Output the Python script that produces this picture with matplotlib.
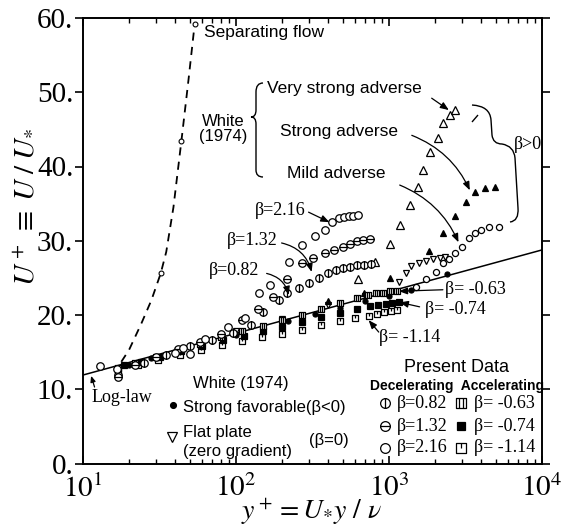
import matplotlib
matplotlib.use("Agg")
import matplotlib.pyplot as plt
import numpy as np
from matplotlib.path import Path
from matplotlib.patches import PathPatch
from matplotlib.ticker import FixedLocator, FuncFormatter, LogLocator, NullFormatter

SANS = ["Liberation Sans", "DejaVu Sans"]
SERIF = ["Liberation Serif", "DejaVu Serif"]
plt.rcParams["font.family"] = SANS
plt.rcParams["mathtext.fontset"] = "stix"

# log-law  U+ = (1/kappa) ln(y+) + B
KAPPA = 0.41
B_LOG = 6.3

# White (1974), separating flow (dashed curve + marked points)
sep_y = [17.8, 20.0, 24.0, 28.0, 32.2, 35.0, 39.0, 44.0, 49.0, 53.7]
sep_u = [13.7, 15.3, 18.8, 22.0, 25.6, 28.5, 34.5, 43.5, 51.8, 59.2]
sep_mark_y = [32.2, 44.0, 53.7]
sep_mark_u = [25.6, 43.5, 59.2]

# White (1974), adverse gradients
vstrong_y = [631, 807, 1016, 1180, 1372, 1556, 1678, 1854, 2104, 2270, 2507, 2705]
vstrong_u = [24.9, 27.1, 29.6, 32.1, 34.8, 37.3, 39.5, 41.9, 43.9, 45.8, 46.9, 47.6]
strong_y = [401, 683, 1012, 1830, 2270, 2700, 3200, 3640, 4220, 4930]
strong_u = [21.9, 22.9, 25.0, 28.6, 31.0, 33.4, 35.2, 36.6, 37.1, 37.2]
mild_y = [1500, 1750, 2040, 2240, 2450, 2700, 2990, 3330, 3640, 4000, 4480, 5230]
mild_u = [23.8, 24.8, 25.8, 27.0, 27.6, 28.3, 29.2, 30.4, 31.0, 31.4, 31.8, 31.8]

# White (1974), favorable and flat plate
fav_y = [20, 28, 45, 70, 100, 150, 220, 330, 480, 700, 1000, 1400, 2400]
fav_u = [13.2, 14.2, 15.4, 16.5, 17.3, 18.3, 19.2, 20.2, 21.0, 21.9, 22.6, 23.4, 25.5]
flat_y = [100, 200, 400, 700, 1160, 1300, 1400, 1560, 1750, 1950, 2150, 2320]
flat_u = [17.8, 19.5, 21.3, 22.6, 24.4, 25.6, 26.6, 27.0, 27.3, 27.5, 27.7, 27.8]

# Present data, decelerating
b082_y = [16.9, 25, 35, 50, 70, 95, 125, 150, 190, 214, 257, 300, 350, 400, 450, 500, 560, 620, 690, 760]
b082_u = [11.9, 13.6, 14.6, 15.8, 16.6, 17.6, 18.6, 20.4, 22.0, 22.9, 23.6, 24.3, 25.0, 25.6, 26.0, 26.3, 26.5, 26.7, 26.8, 26.9]
b132_y = [16.9, 22, 30, 42, 58, 80, 110, 140, 175, 214, 270, 320, 380, 440, 500, 560, 620, 680, 750]
b132_u = [11.6, 13.2, 14.3, 15.4, 16.3, 17.4, 19.3, 20.8, 22.4, 24.8, 27.0, 27.7, 28.3, 28.8, 29.2, 29.6, 29.9, 30.1, 30.3]
b216_y = [13.0, 16.6, 39.7, 45.0, 50.0, 62.7, 89.0, 114, 141, 166, 221, 270, 327, 380, 422, 468, 505, 544, 585, 630]
b216_u = [13.1, 12.7, 14.9, 15.5, 14.7, 16.8, 18.4, 19.6, 22.9, 24.0, 27.1, 29.4, 30.6, 31.4, 32.5, 33.0, 33.2, 33.3, 33.4, 33.5]

# Present data, accelerating
bm063_y = [17, 22, 30, 42, 58, 80, 110, 150, 200, 270, 360, 480, 620, 730, 820, 920, 1020, 1120]
bm063_u = [12.8, 13.5, 14.4, 15.3, 16.1, 17.0, 17.8, 18.5, 19.3, 20.0, 20.8, 21.6, 22.3, 22.7, 22.9, 23.0, 23.2, 23.2]
bm074_y = [18.6, 24, 32, 44, 60, 82, 112, 150, 200, 270, 360, 480, 620, 750, 850, 950, 1050, 1170]
bm074_u = [13.3, 13.7, 14.3, 15.1, 15.8, 16.6, 17.2, 17.8, 18.4, 19.1, 19.7, 20.3, 20.8, 21.2, 21.4, 21.5, 21.6, 21.7]
bm114_y = [17, 23, 31, 43, 59, 81, 110, 148, 200, 270, 360, 480, 600, 735, 830, 930, 1030, 1130]
bm114_u = [12.6, 13.2, 13.9, 14.6, 15.3, 15.9, 16.5, 17.0, 17.5, 18.0, 18.6, 19.2, 19.6, 19.9, 20.2, 20.4, 20.6, 20.7]

y_ticks = [0, 10, 20, 30, 40, 50, 60]
x_ticks = [1e1, 1e2, 1e3, 1e4]

# marker shapes
SQ = Path([(-1, -1), (1, -1), (1, 1), (-1, 1), (-1, -1)],
          [Path.MOVETO, Path.LINETO, Path.LINETO, Path.LINETO, Path.CLOSEPOLY])
CIRC_V = Path.make_compound_path(Path.unit_circle(), Path([(0, -1), (0, 1)]))
CIRC_H = Path.make_compound_path(Path.unit_circle(), Path([(-1, 0), (1, 0)]))
SQ_BARS = Path.make_compound_path(SQ, Path([(-0.4, -1), (-0.4, 1)]), Path([(0.4, -1), (0.4, 1)]))
SQ_TOP = Path.make_compound_path(SQ, Path([(0, 1), (0, 0.1)]))

# axes box in pixels of the 569x530 canvas
AX_L, AX_R, AX_T, AX_B = 83.0, 542.0, 18.0, 463.5


def px2ax(x, y):
    return (x - AX_L) / (AX_R - AX_L), (AX_B - y) / (AX_B - AX_T)


def draw_path(ax, pts, codes, lw=1.0):
    verts = [px2ax(x, y) for x, y in pts]
    ax.add_patch(PathPatch(Path(verts, codes), transform=ax.transAxes,
                           fc="none", ec="black", lw=lw, clip_on=False))


def mk(ax, x, y, marker, ms=5.4, mfc="white", mew=0.9):
    ax.plot(x, y, ls="none", marker=marker, ms=ms, mfc=mfc, mec="black", mew=mew)


fig = plt.figure(figsize=(5.69, 5.30), dpi=100)
ax = fig.add_axes([AX_L / 569, (530 - AX_B) / 530, (AX_R - AX_L) / 569, (AX_B - AX_T) / 530])
ax.set_xscale("log")
ax.set_xlim(10, 1e4)
ax.set_ylim(0, 60)

# log law
yl = np.logspace(1, 4, 50)
ax.plot(yl, np.log(yl) / KAPPA + B_LOG, color="black", lw=1.1)

# separating flow
ax.plot(sep_y, sep_u, color="black", lw=1.3, dashes=(4.5, 3.5))
mk(ax, sep_mark_y, sep_mark_u, "o", ms=3.5, mew=0.8)

# White (1974)
mk(ax, fav_y, fav_u, "o", ms=3.6, mfc="black")
mk(ax, flat_y, flat_u, "v", ms=4.4)
mk(ax, mild_y, mild_u, "o", ms=4.4)
mk(ax, strong_y, strong_u, "^", ms=4.8, mfc="black")
mk(ax, vstrong_y, vstrong_u, "^", ms=5.2)

# present data
mk(ax, bm114_y, bm114_u, SQ_TOP, ms=4.8)
mk(ax, bm074_y, bm074_u, "s", ms=4.4, mfc="black")
mk(ax, bm063_y, bm063_u, SQ_BARS, ms=4.8)
mk(ax, b082_y, b082_u, CIRC_V)
mk(ax, b132_y, b132_u, CIRC_H)
mk(ax, b216_y, b216_u, "o")

# ticks
ax.yaxis.set_major_locator(FixedLocator(y_ticks))
ax.yaxis.set_major_formatter(FuncFormatter(lambda v, p: f"{v:.0f}."))
ax.xaxis.set_major_locator(FixedLocator(x_ticks))
ax.xaxis.set_major_formatter(FuncFormatter(lambda v, p: r"$10^{%d}$" % round(np.log10(v))))
ax.xaxis.set_minor_locator(LogLocator(base=10, subs=np.arange(2, 10)))
ax.xaxis.set_minor_formatter(NullFormatter())
ax.tick_params(axis="y", which="major", direction="out", length=6, width=1.2,
               right=True, labelsize=21, pad=1)
ax.tick_params(axis="x", which="major", direction="in", length=6, width=1.2,
               top=True, labelsize=21, pad=8)
ax.tick_params(axis="x", which="minor", direction="in", length=3.5, width=1.0, top=True)
for lab in ax.get_yticklabels() + ax.get_xticklabels():
    lab.set_family(SERIF)
for s in ax.spines.values():
    s.set_linewidth(1.4)

ax.set_xlabel(r"$y^+ = U_{*}y\ /\ \nu$", fontsize=20, va="center")
ax.xaxis.set_label_coords(*px2ax(311, 512))
ax.set_ylabel(r"$U^+\; \equiv\; U\; /\; U_{*}$", fontsize=21, va="center")
ax.yaxis.set_label_coords(*px2ax(24, 207))

arrow = dict(arrowstyle="-|>,head_length=0.5,head_width=0.2", color="black", lw=0.9, shrinkA=0, shrinkB=0)

# upper annotations (White 1974)
ax.text(62.2, 58.1, "Separating flow", fontsize=12.5, va="center", ha="left")
ax.text(82, 45.0, "White\n(1974)", fontsize=12, va="center", ha="center", linespacing=1.0)
ax.text(158.6, 50.5, "Very strong adverse", fontsize=12.5, va="center")
ax.text(192.8, 44.75, "Strong adverse", fontsize=12.5, va="center")
ax.text(214, 39.1, "Mild adverse", fontsize=12.5, va="center")
ax.annotate("", xy=(2461, 47.6), xytext=(1901, 49.2), arrowprops=arrow)
ax.annotate("", xy=(3374, 36.8), xytext=(1409, 44.2),
            arrowprops=dict(arrow, connectionstyle="arc3,rad=-0.2"))
ax.annotate("", xy=(2845, 29.8), xytext=(1175, 37.5),
            arrowprops=dict(arrow, connectionstyle="arc3,rad=-0.2"))
ax.text(6500, 43.0, "β>0", fontsize=13, va="center", family=SERIF)

# braces
C3, L = Path.CURVE3, Path.LINETO
draw_path(ax, [(263, 83), (256, 83), (256, 92), (256, 110), (256, 117), (251, 117),
               (256, 117), (256, 124), (256, 170), (256, 177), (263, 177)],
          [Path.MOVETO, C3, C3, L, C3, C3, C3, C3, L, C3, C3])
draw_path(ax, [(472, 105), (490, 106), (491, 120), (492, 135), (493, 144), (502, 144),
               (514, 146), (515, 158), (518, 208), (519, 221), (510, 222)],
          [Path.MOVETO, C3, C3, L, C3, C3, C3, C3, L, C3, C3])
draw_path(ax, [(472, 122), (478, 115)], [Path.MOVETO, L])

# beta labels
ax.text(132, 34.1, "β=2.16", fontsize=13, va="center", family=SERIF)
ax.annotate("", xy=(408, 32.5), xytext=(298, 33.85), arrowprops=arrow)
ax.text(86.7, 30.1, "β=1.32", fontsize=13, va="center", family=SERIF)
ax.annotate("", xy=(312, 25.8), xytext=(198.6, 29.7),
            arrowprops=dict(arrow, connectionstyle="arc3,rad=-0.3"))
ax.text(66.1, 26.0, "β=0.82", fontsize=13, va="center", family=SERIF)
ax.annotate("", xy=(221, 22.7), xytext=(158.6, 25.6),
            arrowprops=dict(arrow, connectionstyle="arc3,rad=-0.3"))
ax.text(2317, 23.5, "β= -0.63", fontsize=13, va="center", family=SERIF)
ax.annotate("", xy=(1161, 23.2), xytext=(2250, 23.4), arrowprops=arrow)
ax.text(1714, 20.7, "β= -0.74", fontsize=13, va="center", family=SERIF)
ax.annotate("", xy=(1175, 21.7), xytext=(1585, 21.1), arrowprops=arrow)
ax.text(857, 17.0, "β= -1.14", fontsize=13, va="center", family=SERIF)
ax.annotate("", xy=(736, 19.3), xytext=(857, 17.7), arrowprops=arrow)

ax.text(11.3, 8.95, "Log-law", fontsize=13, va="center", family=SERIF)
ax.annotate("", xy=(11.3, 11.8), xytext=(11.9, 10.3),
            arrowprops=dict(arrow, arrowstyle="-|>,head_length=0.35,head_width=0.15"))

# White (1974) key
ax.text(52.7, 10.8, "White (1974)", fontsize=12, va="center")
mk(ax, [39.0], [7.85], "o", ms=4.2, mfc="black")
ax.text(44.8, 7.6, "Strong favorable(β<0)", fontsize=12, va="center")
mk(ax, [37.9], [3.57], "v", ms=6.5)
ax.text(44.8, 4.24, "Flat plate", fontsize=12, va="center")
ax.text(44.8, 1.55, "(zero gradient)", fontsize=12, va="center")
ax.text(298, 3.16, "(β=0)", fontsize=12, va="center")

# present data key
ax.text(2773, 12.95, "Present Data", fontsize=13, va="center", ha="center")
ax.text(2773, 10.4, "Decelerating  Accelerating", fontsize=10, va="center", ha="center",
        weight="bold")
key_u = [8.14, 5.05, 2.09]
mk(ax, [938], [key_u[0]], CIRC_V, ms=7)
mk(ax, [938], [key_u[1]], CIRC_H, ms=7)
mk(ax, [938], [key_u[2]], "o", ms=7)
mk(ax, [2945], [key_u[0]], SQ_BARS, ms=6.5)
mk(ax, [2945], [key_u[1]], "s", ms=6.2, mfc="black")
mk(ax, [2945], [key_u[2]], SQ_TOP, ms=6.5)
for u, s in zip(key_u, ["=0.82", "=1.32", "=2.16"]):
    ax.text(1122, u, "β" + s, fontsize=13, va="center", family=SERIF)
for u, s in zip(key_u, ["= -0.63", "= -0.74", "= -1.14"]):
    ax.text(3580, u, "β" + s, fontsize=13, va="center", family=SERIF)

fig.savefig("out.png", dpi=100)
